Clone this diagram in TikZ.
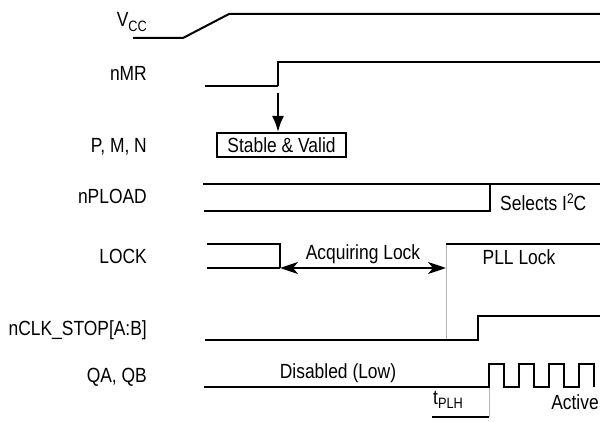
\documentclass[tikz,border=0pt]{standalone}
\usepackage{fontspec}
\setmainfont{Liberation Sans}[FakeStretch=0.85]
\usetikzlibrary{arrows.meta}
\newcommand{\sigfont}{\fontsize{20.5}{24}\selectfont}
\newcommand{\lowtxt}[1]{\raisebox{-0.4ex}{\fontsize{15}{15}\selectfont #1}}
\newcommand{\hightxt}[1]{\raisebox{0.65ex}{\fontsize{14}{14}\selectfont #1}}
\tikzset{
  wave/.style={line width=2pt, line join=miter},
  thinwave/.style={line width=1.2pt},
  guide/.style={line width=1pt, color=black!30},
  siglabel/.style={anchor=base east, inner sep=0pt, font=\sigfont},
  note/.style={anchor=base, inner sep=0pt, font=\sigfont},
  valbox/.style={draw, line width=2pt, minimum width=129pt, minimum height=24pt, inner sep=0pt, font=\sigfont},
  downarrow/.style={-{Latex[length=16pt,width=12pt]}, line width=2pt},
  spanarrow/.style={{Stealth[length=18pt,width=12pt,inset=5pt]}-{Stealth[length=18pt,width=12pt,inset=5pt]}, line width=2pt}
}

\begin{document}
\begin{tikzpicture}[x=1pt, y=-1pt]
  \useasboundingbox (0,0) rectangle (600,422);

  % signal names
  \node[siglabel] (vcc)   at (147,27)  {V\lowtxt{CC}};
  \node[siglabel] (nmr)   at (147,81)  {nMR};
  \node[siglabel] (pmn)   at (147,153) {P, M, N};
  \node[siglabel] (pload) at (147,204) {nPLOAD};
  \node[siglabel] (lock)  at (147,264) {LOCK};
  \node[siglabel] (stop)  at (147,335) {nCLK\_STOP[A:B]};
  \node[siglabel] (qaqb)  at (147,382) {QA, QB};

  % key instants
  \coordinate (mrrise)   at (278,62);
  \coordinate (lockfall) at (280,268);
  \coordinate (pllup)    at (446,244);
  \coordinate (pllfoot)  at (446,340);
  \coordinate (qstart)   at (489,387);
  \coordinate (tplh)     at (489,417);
  \coordinate (tplhleft) at (432,417);

  % grey guides
  \draw[guide] (pllup) -- (pllfoot);
  \draw[guide] (qstart) -- (tplh);

  % V_CC
  \draw[wave] (133,38) -- (183,38) -- (229,14) -- (600,14);

  % nMR
  \draw[thinwave] (205,86) -- (mrrise |- 0,86);
  \draw[wave] (mrrise |- 0,86) -- (mrrise) -- (600,62);

  % P, M, N
  \node[valbox] (valid) at (281.5,145) {Stable \& Valid};
  \draw[downarrow] (278,93) -- (valid.north -| mrrise);

  % nPLOAD
  \draw[wave] (203,184) -- (600,184);
  \draw[wave] (204,211) -- (490,211) -- (490,184);
  \node[anchor=base west, inner sep=0pt, font=\sigfont] (i2c) at (500,211) {Selects I\hightxt{2}C};

  % LOCK
  \draw[wave] (207,244) -- (lockfall |- 0,244) -- (lockfall);
  \draw[wave] (207,268) -- (lockfall);
  \draw[spanarrow] (lockfall) -- (pllup |- lockfall);
  \node[note] (acq) at (363,260) {Acquiring Lock};
  \draw[wave] (pllup) -- (600,244);
  \node[note] (pll) at (519,265) {PLL Lock};

  % nCLK_STOP
  \draw[wave] (205,340) -- (478,340) -- (478,316) -- (600,316);

  % QA, QB
  \draw[wave] (204,387) foreach \t in {489,519,549,579} {
    -- (\t,387) -- (\t,364) -- (\t+15,364) -- (\t+15,387) };
  \node[note] (dis) at (338,378) {Disabled (Low)};
  \node[note] (act) at (575,409) {Active};
  \draw[wave] (tplhleft) -- (tplh);
  \node[anchor=base west, inner sep=0pt, font=\sigfont] (tp) at (433,404) {t\lowtxt{PLH}};
\end{tikzpicture}
\end{document}
